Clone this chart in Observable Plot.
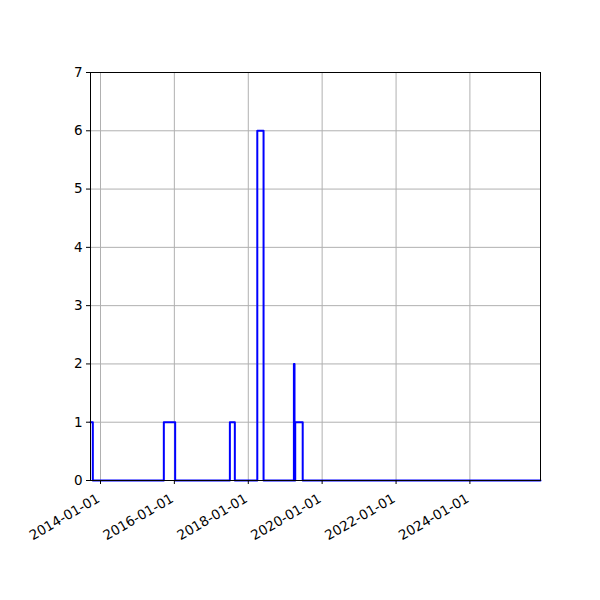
<!DOCTYPE html>
<html>
<head>
<meta charset="utf-8">
<script src="https://cdn.jsdelivr.net/npm/d3@7"></script>
<script src="https://cdn.jsdelivr.net/npm/@observablehq/plot@0.6"></script>
<style>
  html, body { margin: 0; padding: 0; background: #fff; }
  #chart { width: 600px; height: 600px; }
</style>
</head>
<body>
<div id="chart"></div>
<script>
// Step series: dates where the value changes, and the value from that date on
const changeDates = ["2013-09-24","2013-10-17","2015-09-19","2016-01-09","2017-07-03","2017-08-21",
  "2018-03-31","2018-06-01","2019-03-28","2019-04-03","2019-04-10","2019-06-23","2025-11-29"];
const counts = [1,0,1,0,1,0,6,0,2,0,1,0,0];
const xTickLabels = ["2014-01-01","2016-01-01","2018-01-01","2020-01-01","2022-01-01","2024-01-01"];
const yTicks = [0,1,2,3,4,5,6,7];

const data = changeDates.map((d, i) => ({date: new Date(d + "T00:00:00Z"), value: counts[i]}));
const xTicks = xTickLabels.map(s => new Date(s + "T00:00:00Z"));
const xDomain = [data[0].date, data[data.length - 1].date];
const fmt = d3.utcFormat("%Y-%m-%d");

const chart = Plot.plot({
  width: 600,
  height: 600,
  marginLeft: 90,
  marginRight: 60,
  marginTop: 72,
  marginBottom: 120,
  style: {fontFamily: "DejaVu Sans", fontSize: "13.5px", background: "white", color: "black"},
  x: {type: "utc", domain: xDomain},
  y: {domain: [0, 7]},
  marks: [
    Plot.gridX(xTicks, {stroke: "#b0b0b0", strokeOpacity: 1, strokeWidth: 1}),
    Plot.gridY(yTicks, {stroke: "#b0b0b0", strokeOpacity: 1, strokeWidth: 1}),
    Plot.lineY(data, {x: "date", y: "value", curve: "step-after", stroke: "#0000ff", strokeWidth: 2}),
    Plot.axisX({ticks: xTicks, tickSize: 4, tickFormat: () => "", label: null}),
    Plot.text(xTicks, {x: d => d, text: d => fmt(d), frameAnchor: "bottom", dy: 17, dx: -2,
      rotate: -30, textAnchor: "end", lineAnchor: "middle", fontSize: 13.5, fill: "black"}),
    Plot.axisY({ticks: yTicks, tickSize: 4, tickPadding: 4, tickFormat: d => String(d), label: null, fontSize: 13.5}),
    Plot.frame({stroke: "black", strokeWidth: 1})
  ]
});
document.getElementById("chart").appendChild(chart);
</script>
</body>
</html>
